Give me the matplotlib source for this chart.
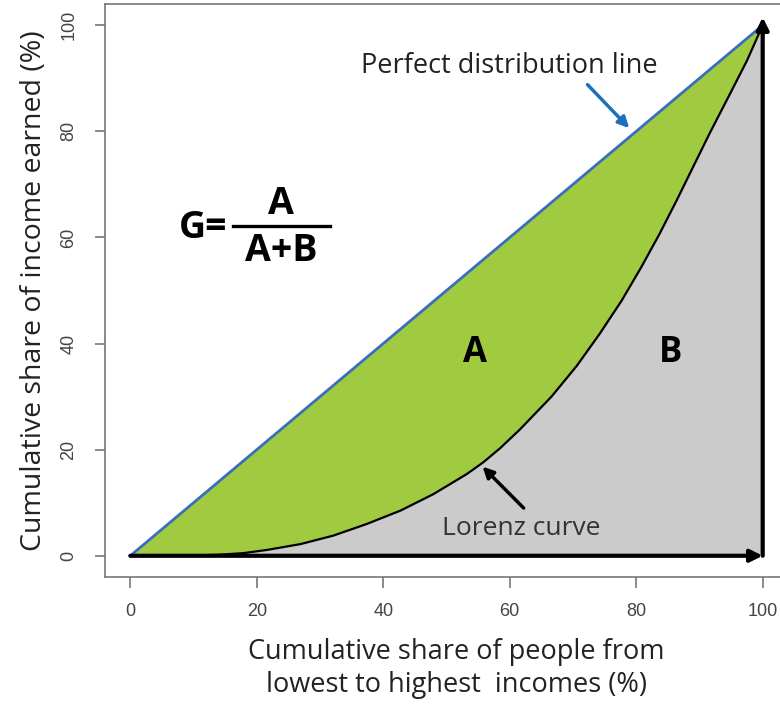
import matplotlib.pyplot as plt
from matplotlib.lines import Line2D

# perfect equality line and the Lorenz curve (cumulative %)
equal_x = [0, 100]
equal_y = [0, 100]
lorenz_x = [0, 5, 10, 14, 17.9, 21.6, 26.9, 32.1, 37.4, 42.7, 47.9, 53.2, 55.8, 58.5, 61.6,
            66.6, 70.6, 74.2, 77.7, 80.8, 83.7, 86.4, 89.0, 91.6, 94.8, 97.5, 100]
lorenz_y = [0, 0.0, 0.05, 0.2, 0.5, 1.1, 2.2, 3.8, 6.0, 8.5, 11.6, 15.4, 17.6, 20.3, 23.8,
            30.0, 35.8, 41.8, 48.1, 54.4, 60.7, 67.0, 73.3, 79.6, 87.0, 93.3, 100]
ticks = [0, 20, 40, 60, 80, 100]

green = '#a0cb40'
grey = '#cbcbcb'
blue = '#3a6ebd'
sans = ['Open Sans', 'DejaVu Sans']

fig = plt.figure(figsize=(7.8, 7.05), dpi=100)
ax = fig.add_axes([105 / 780, 128 / 705, 683 / 780, 573 / 705])

# areas
ax.fill_between(lorenz_x, lorenz_y, 0, color=grey, lw=0)
ax.fill_between(lorenz_x, lorenz_x, lorenz_y, color=green, lw=0)
ax.plot(equal_x, equal_y, color=blue, lw=2)
ax.plot(lorenz_x, lorenz_y, color='black', lw=1.6, solid_joinstyle='round')

# axis arrows
ax.annotate('', xy=(100, 0), xytext=(0, 0),
            arrowprops=dict(arrowstyle='-|>', color='black', lw=3, mutation_scale=18,
                            shrinkA=0, shrinkB=0))
ax.annotate('', xy=(100, 101.5), xytext=(100, 0),
            arrowprops=dict(arrowstyle='-|>', color='black', lw=3, mutation_scale=18,
                            shrinkA=0, shrinkB=0))

# labels inside
ax.text(54.5, 38.3, 'A', fontsize=25, fontweight='bold', family=sans, ha='center', va='center')
ax.text(85.5, 38.3, 'B', fontsize=25, fontweight='bold', family=sans, ha='center', va='center')

ax.text(11.5, 61.8, 'G=', fontsize=27, fontweight='bold', family=sans, ha='center', va='center')
ax.text(23.8, 66.3, 'A', fontsize=27, fontweight='bold', family=sans, ha='center', va='center')
ax.text(23.8, 57.5, 'A+B', fontsize=27, fontweight='bold', family=sans, ha='center', va='center')
ax.add_line(Line2D([16.2, 31.6], [62.2, 62.2], color='black', lw=2.4))

ax.text(60, 92.3, 'Perfect distribution line', fontsize=19.5, family=sans,
        ha='center', va='center', color='#222222')
ax.annotate('', xy=(78.9, 80.6), xytext=(72.3, 88.8),
            arrowprops=dict(arrowstyle='-|>', color='#1f6fbf', lw=2.5, mutation_scale=16,
                            shrinkA=0, shrinkB=0))

ax.text(61.8, 5.1, 'Lorenz curve', fontsize=19, family=sans,
        ha='center', va='center', color='#333333')
ax.annotate('', xy=(55.7, 16.8), xytext=(62.2, 9.0),
            arrowprops=dict(arrowstyle='-|>', color='black', lw=2.5, mutation_scale=16,
                            shrinkA=0, shrinkB=0))

# R-like axes
ax.set_xlim(-4, 104)
ax.set_ylim(-4, 104)
ax.set_xticks(ticks)
ax.set_yticks(ticks)
ax.set_yticklabels([str(t) for t in ticks], rotation=90, va='center')
for s in ax.spines.values():
    s.set_color('#777777')
    s.set_linewidth(1.2)
ax.tick_params(axis='x', length=8, width=1.2, color='#777777', pad=11,
               labelsize=13, labelcolor='#444444')
ax.tick_params(axis='y', length=7, width=1.2, color='#777777', pad=13,
               labelsize=13, labelcolor='#444444')
for lab in ax.get_xticklabels() + ax.get_yticklabels():
    lab.set_family(['Liberation Sans', 'DejaVu Sans'])

ax.set_xlabel('Cumulative share of people from\nlowest to highest  incomes (%)',
              fontsize=19.5, family=sans, linespacing=1.25, color='#222222')
ax.xaxis.set_label_coords(0.515, -0.106)
ax.set_ylabel('Cumulative share of income earned (%)', fontsize=20.5, family=sans,
              labelpad=9, color='#222222')

fig.savefig('out.png', dpi=100)
